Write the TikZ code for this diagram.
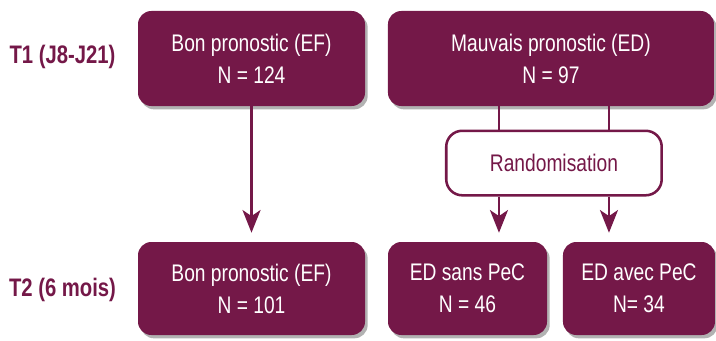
\documentclass[tikz,border=0pt]{standalone}
\usepackage{fontspec}
\setmainfont[FakeStretch=0.8]{Liberation Sans}
\usetikzlibrary{arrows.meta,shadows}
\definecolor{prune}{RGB}{116,24,72}
\begin{document}
\begin{tikzpicture}[
  x=0.75pt, y=0.75pt,
  box/.style={rectangle, rounded corners=10pt, fill=prune, text=white, align=center,
    font=\fontsize{18}{24}\selectfont,
    drop shadow={shadow xshift=2pt, shadow yshift=-2.5pt, fill=black, opacity=0.3}},
  randbox/.style={rectangle, rounded corners=12pt, draw=prune, line width=1.9pt, fill=white,
    text=prune, minimum width=161.6pt, minimum height=48.4pt, font=\fontsize{18}{24}\selectfont},
  timelabel/.style={text=prune, font=\fontsize{19}{24}\selectfont\bfseries},
  link/.style={draw=prune, line width=1.9pt},
  arrow/.style={link, -{Stealth[length=17pt,width=13.5pt,inset=4.5pt]}, shorten >=6.75pt}
]
\useasboundingbox (0,0) rectangle (716,340);
\node[box, minimum width=170.25pt, minimum height=71.25pt] (bon1) at (251.5,281.5) {Bon pronostic (EF)\\N = 124};
\node[box, right of=bon1, node distance=224.6pt, minimum width=244.5pt, minimum height=71.25pt] (mauv) {Mauvais pronostic (ED)\\N = 97};
\node[randbox, below of=mauv, node distance=78.4pt, xshift=2.25pt] (rando) {Randomisation};
\node[box, below of=bon1, node distance=172.5pt, minimum width=170.25pt, minimum height=69.75pt] (bon2) {Bon pronostic (EF)\\N = 101};
\node[box, right of=bon2, node distance=162pt, minimum width=119.25pt, minimum height=69.75pt] (sans) {ED sans PeC\\N = 46};
\node[box, right of=sans, node distance=128.6pt, minimum width=114pt, minimum height=69.75pt] (avec) {ED avec PeC\\N= 34};

\node[timelabel, left of=bon1, node distance=141.75pt, yshift=1pt] (t1) {T1 (J8-J21)};
\node[timelabel, left of=bon2, node distance=141.75pt, yshift=-1pt] (t2) {T2 (6 mois)};

\draw[arrow] (bon1) -- (bon2);
\draw[link] ([xshift=-41.25pt]rando.north) -- ([xshift=-41.25pt]rando.north |- mauv.south);
\draw[link] ([xshift=41.25pt]rando.north) -- ([xshift=41.25pt]rando.north |- mauv.south);
\draw[arrow] ([xshift=-41.25pt]rando.south) -- ([xshift=-41.25pt]rando.south |- sans.north);
\draw[arrow] ([xshift=41.25pt]rando.south) -- ([xshift=41.25pt]rando.south |- avec.north);
\end{tikzpicture}
\end{document}
